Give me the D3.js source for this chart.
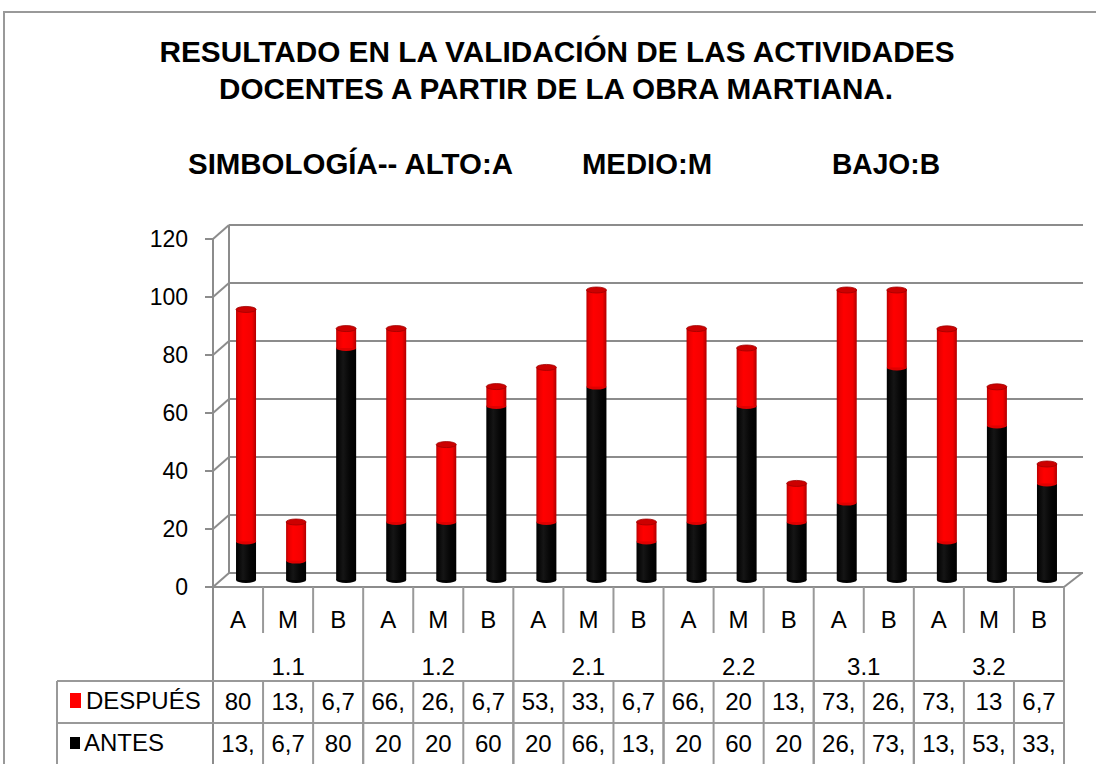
<!DOCTYPE html>
<html>
<head>
<meta charset="utf-8">
<script src="https://cdn.jsdelivr.net/npm/d3@7"></script>
<style>
  body { margin: 0; background: #fff; }
  text { font-family: "Liberation Sans", Arial, sans-serif; fill: #000; }
</style>
</head>
<body>
<script>
// datos
const grupos = ['1.1', '1.2', '2.1', '2.2', '3.1', '3.2'];
const niveles = ['A','M','B','A','M','B','A','M','B','A','M','B','A','B','A','M','B'];
const grupoDe = [0,0,0,1,1,1,2,2,2,3,3,3,4,4,5,5,5];
const antes = [13.3, 6.7, 80, 20, 20, 60, 20, 66.7, 13.3, 20, 60, 20, 26.7, 73.3, 13.3, 53.3, 33.3];
const despues = [80, 13.3, 6.7, 66.7, 26.7, 6.7, 53.3, 33.3, 6.7, 66.7, 20, 13.3, 73.3, 26.7, 73.3, 13.3, 6.7];
// texto de la tabla tal como sale (recortado)
const despuesTxt = ['80','13,','6,7','66,','26,','6,7','53,','33,','6,7','66,','20','13,','73,','26,','73,','13','6,7'];
const antesTxt = ['13,','6,7','80','20','20','60','20','66,','13,','20','60','20','26,','73,','13,','53,','33,'];
const yTicks = [0, 20, 40, 60, 80, 100, 120];

const W = 1096, H = 764;
const gris = '#8c8c8c';
const pLeft = 213, pRight = 1064, pBase = 587, pTop = 239;
const dx = 16, dy = -14; // profundidad 3d

const svg = d3.select('body').append('svg')
  .attr('width', W).attr('height', H);

// marco exterior
svg.append('rect').attr('x', 4).attr('y', 12).attr('width', W + 20).attr('height', H + 20)
  .attr('fill', 'none').attr('stroke', '#999').attr('stroke-width', 2);

// titulos (el original es alto y algo estrecho)
function titulo(t, xx, yy, largo, anchor) {
  svg.append('text').attr('x', xx).attr('y', yy).attr('text-anchor', anchor)
    .style('font-size', '29px').style('font-weight', 'bold')
    .attr('textLength', largo).attr('lengthAdjust', 'spacingAndGlyphs')
    .text(t);
}
titulo('RESULTADO EN LA VALIDACIÓN DE LAS ACTIVIDADES', 557, 62, 795, 'middle');
titulo('DOCENTES A PARTIR DE LA OBRA MARTIANA.', 556, 99, 674, 'middle');
titulo('SIMBOLOGÍA-- ALTO:A', 188, 174, 325, 'start');
titulo('MEDIO:M', 582, 174, 130, 'start');
titulo('BAJO:B', 832, 174, 108, 'start');

// escalas
const x = d3.scaleBand().domain(d3.range(niveles.length)).range([pLeft, pRight]);
const y = d3.scaleLinear().domain([0, 120]).range([pBase, pTop]);

// paredes y lineas de cuadricula
const grid = svg.append('g').attr('stroke', gris).attr('stroke-width', 2).attr('fill', 'none');
grid.selectAll('line.g').data(yTicks).join('line').attr('class', 'g')
  .attr('x1', pLeft + dx).attr('x2', pRight + dx + 3)
  .attr('y1', (d) => y(d) + dy).attr('y2', (d) => y(d) + dy);
grid.selectAll('line.d').data(yTicks).join('line').attr('class', 'd')
  .attr('x1', pLeft - 8).attr('x2', pLeft).attr('y1', (d) => y(d)).attr('y2', (d) => y(d));
grid.selectAll('path.d').data(yTicks).join('path').attr('class', 'd')
  .attr('d', (d) => `M${pLeft},${y(d)}L${pLeft + dx},${y(d) + dy}`);
grid.append('line').attr('x1', pLeft).attr('x2', pLeft).attr('y1', y(120)).attr('y2', H);
grid.append('line').attr('x1', pLeft + dx).attr('x2', pLeft + dx).attr('y1', y(120) + dy).attr('y2', y(0) + dy);
grid.append('line').attr('x1', pLeft).attr('x2', pRight).attr('y1', pBase).attr('y2', pBase);
grid.append('path').attr('d', `M${pRight},${pBase}L${pRight + dx + 2},${pBase + dy}`);

// etiquetas eje y
svg.append('g').selectAll('text').data(yTicks).join('text')
  .attr('x', 188).attr('y', (d) => y(d) + 8).attr('text-anchor', 'end')
  .style('font-size', '23px').text((d) => d);

// gradientes para los cilindros
const defs = svg.append('defs');
function grad(id, stops) {
  const g = defs.append('linearGradient').attr('id', id);
  stops.forEach(([o, c]) => g.append('stop').attr('offset', o).attr('stop-color', c));
}
grad('rojo', [[0, '#b80000'], [0.12, '#e80000'], [0.35, '#ff0000'], [0.8, '#f40000'], [1, '#b00000']]);
grad('negro', [[0, '#000'], [0.35, '#151515'], [0.7, '#050505'], [1, '#000']]);

const bw = 20, ry = 3;
const cx = (i) => x(i) + x.bandwidth() / 2 + dx / 2;
const ym = (v) => y(v) + dy / 2;

const barras = svg.append('g').selectAll('g').data(niveles.map((n, i) => i)).join('g');
// parte negra (ANTES)
barras.append('ellipse').attr('cx', cx).attr('cy', () => ym(0)).attr('rx', bw / 2).attr('ry', ry).attr('fill', '#000');
barras.append('rect').attr('x', (i) => cx(i) - bw / 2).attr('width', bw)
  .attr('y', (i) => ym(antes[i])).attr('height', (i) => ym(0) - ym(antes[i]))
  .attr('fill', 'url(#negro)');
// parte roja (DESPUES)
barras.append('ellipse').attr('cx', cx).attr('cy', (i) => ym(antes[i])).attr('rx', bw / 2).attr('ry', ry).attr('fill', '#e00000');
barras.append('rect').attr('x', (i) => cx(i) - bw / 2).attr('width', bw)
  .attr('y', (i) => ym(antes[i] + despues[i])).attr('height', (i) => ym(antes[i]) - ym(antes[i] + despues[i]))
  .attr('fill', 'url(#rojo)');
barras.append('ellipse').attr('cx', cx).attr('cy', (i) => ym(antes[i] + despues[i])).attr('rx', bw / 2).attr('ry', ry)
  .attr('fill', '#cc0000').attr('stroke', '#a00000').attr('stroke-width', 0.8);

// tabla de categorias y datos
const rowA = 633, rowG = 681, rowD = 723;
const tabla = svg.append('g').attr('stroke', '#999').attr('stroke-width', 2);
const finGrupo = (i) => i === niveles.length - 1 || grupoDe[i] !== grupoDe[i + 1];
tabla.selectAll('line.sep').data(d3.range(niveles.length)).join('line').attr('class', 'sep')
  .attr('x1', (i) => x(i) + x.bandwidth()).attr('x2', (i) => x(i) + x.bandwidth())
  .attr('y1', pBase).attr('y2', (i) => finGrupo(i) ? H : rowA);
tabla.selectAll('line.sepd').data(d3.range(niveles.length)).join('line').attr('class', 'sepd')
  .attr('x1', (i) => x(i) + x.bandwidth()).attr('x2', (i) => x(i) + x.bandwidth())
  .attr('y1', rowG).attr('y2', H);
tabla.append('line').attr('x1', 57).attr('x2', 57).attr('y1', rowG).attr('y2', H);
[rowG, rowD].forEach((yy) => tabla.append('line').attr('x1', 57).attr('x2', pRight).attr('y1', yy).attr('y2', yy));

const txt = svg.append('g').style('font-size', '24px').attr('text-anchor', 'middle');
txt.selectAll('text.n').data(niveles).join('text').attr('class', 'n')
  .attr('x', (d, i) => x(i) + x.bandwidth() / 2).attr('y', 628).text((d) => d);
txt.selectAll('text.gr').data(grupos).join('text').attr('class', 'gr')
  .attr('x', (d, g) => {
    const idx = d3.range(niveles.length).filter((i) => grupoDe[i] === g);
    return (x(idx[0]) + x(idx[idx.length - 1]) + x.bandwidth()) / 2;
  })
  .attr('y', 675).text((d) => d);
txt.selectAll('text.dp').data(despuesTxt).join('text').attr('class', 'dp')
  .attr('x', (d, i) => x(i) + x.bandwidth() / 2).attr('y', 710).text((d) => d);
txt.selectAll('text.an').data(antesTxt).join('text').attr('class', 'an')
  .attr('x', (d, i) => x(i) + x.bandwidth() / 2).attr('y', 752).text((d) => d);

// leyenda dentro de la tabla
svg.append('rect').attr('x', 70).attr('y', 693).attr('width', 11).attr('height', 15).attr('fill', '#ff0000');
svg.append('text').attr('x', 86).attr('y', 709).style('font-size', '24px').text('DESPUÉS');
svg.append('rect').attr('x', 70).attr('y', 737).attr('width', 10).attr('height', 12).attr('fill', '#000');
svg.append('text').attr('x', 84).attr('y', 751).style('font-size', '24px').text('ANTES');
</script>
</body>
</html>
